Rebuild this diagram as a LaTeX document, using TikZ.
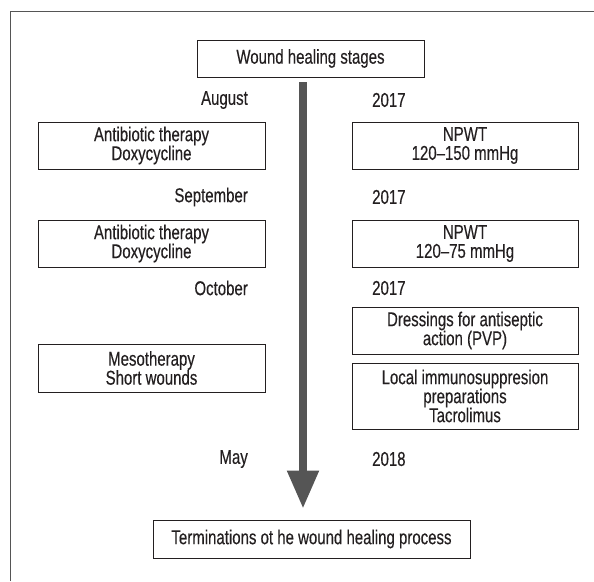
\documentclass[tikz,border=0pt]{standalone}
\usepackage{fontspec}
\setmainfont[FakeStretch=0.75,FakeBold=0.3]{Liberation Sans}
\usepackage{tikz}
\usetikzlibrary{positioning,arrows.meta}
\definecolor{axisgray}{RGB}{85,85,85}
\definecolor{inkgray}{RGB}{35,31,32}
\tikzset{
  stagebox/.style={draw=inkgray, line width=0.8pt, align=center, text=inkgray,
    font=\fontsize{20}{19}\selectfont, inner sep=2pt,
    minimum width=227pt, minimum height=47pt},
  datelabel/.style={font=\fontsize{20}{19}\selectfont, text=inkgray, inner sep=0pt},
  timearrow/.style={axisgray, line width=8pt, -{Triangle[width=30pt,length=38pt]}},
}

\begin{document}
\begin{tikzpicture}[x=1pt,y=1pt]
  \useasboundingbox (0,0) rectangle (594,-581);
  % open frame
  \draw[axisgray, line width=1pt] (10,-581) -- (10,-11) -- (594,-11);
  \coordinate (axis) at (303,0);
  \node[stagebox, minimum height=37pt] (title) at (310.5,-58.5) {Wound healing stages};
  \node[stagebox, minimum width=317pt, minimum height=38pt] (term) at (311.5,-539)
    {Terminations ot he wound healing process};
  % time axis
  \draw[timearrow, shorten <=5pt, shorten >=11pt] (title.south -| axis) -- (term.north -| axis);
  % months and years
  \node[datelabel, anchor=east] (aug) at (248,-100) {August};
  \node[datelabel, anchor=west] (y1) at (372,-100) {2017};
  \node[datelabel, anchor=east] (sep) at (248,-197) {September};
  \node[datelabel, anchor=west] (y2) at (372,-197) {2017};
  \node[datelabel, anchor=east] (oct) at (248,-288) {October};
  \node[datelabel, anchor=west] (y3) at (372,-288) {2017};
  \node[datelabel, anchor=east] (may) at (248,-459) {May};
  \node[datelabel, anchor=west] (y4) at (372,-459) {2018};
  % left column
  \node[stagebox] (anti1) at (151.5,-145.5) {Antibiotic therapy\\Doxycycline};
  \node[stagebox] (anti2) at (151.5,-243.5) {Antibiotic therapy\\Doxycycline};
  \node[stagebox, minimum height=48pt] (meso) at (151.5,-368) {Mesotherapy\\Short wounds};
  % right column
  \node[stagebox, minimum width=226pt] (npwt1) at (465,-145.5) {NPWT\\120--150 mmHg};
  \node[stagebox, minimum width=226pt] (npwt2) at (465,-243.5) {NPWT\\120--75 mmHg};
  \node[stagebox, minimum width=226pt] (dress) at (465,-330.5) {Dressings for antiseptic\\action (PVP)};
  \node[stagebox, minimum width=226pt, minimum height=66pt] (immuno) at (465,-396)
    {Local immunosuppresion\\preparations\\Tacrolimus};
\end{tikzpicture}
\end{document}
